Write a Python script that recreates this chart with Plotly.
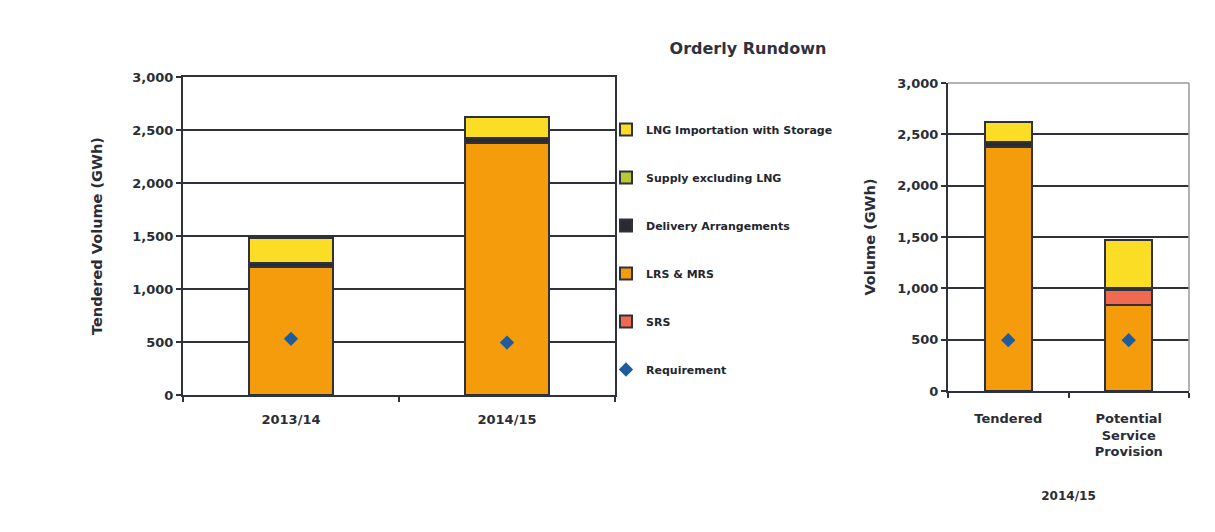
import plotly.graph_objects as go

# ---- data ----
years = ["2013/14", "2014/15"]
lrs_mrs_left = [1210, 2380]
srs_left = [0, 0]
delivery_left = [40, 45]
supply_left = [0, 0]
lng_left = [235, 195]
requirement_left = [530, 495]

cats_right = ["Tendered", "Potential<br>Service<br>Provision"]
lrs_mrs_right = [2380, 840]
srs_right = [0, 140]
delivery_right = [45, 20]
supply_right = [0, 0]
lng_right = [195, 470]
requirement_right = [495, 495]

y_ticks = [0, 500, 1000, 1500, 2000, 2500, 3000]
y_ticklabels = ["0", "500", "1,000", "1,500", "2,000", "2,500", "3,000"]

# ---- styles ----
DARK = "#2f323d"
TXT = "#2a2d36"
FONT = "DejaVu Sans"
series = [
    ("LRS & MRS", "#f59c0c", lrs_mrs_left, lrs_mrs_right, 4),
    ("SRS", "#ef6a50", srs_left, srs_right, 5),
    ("Delivery Arrangements", "#2a2b30", delivery_left, delivery_right, 3),
    ("Supply excluding LNG", "#b8c934", supply_left, supply_right, 2),
    ("LNG Importation with Storage", "#fbdd25", lng_left, lng_right, 1),
]

fig = go.Figure()
for name, color, lv, rv, rank in series:
    for xa, ya, cats, vals, show in (("x", "y", years, lv, True), ("x2", "y2", cats_right, rv, False)):
        fig.add_trace(go.Bar(
            x=cats, y=vals, name=name, xaxis=xa, yaxis=ya,
            marker=dict(color=color, line=dict(color=DARK, width=2)),
            width=0.39, legendgroup=name, showlegend=show, legendrank=rank,
        ))

fig.add_trace(go.Scatter(
    x=years, y=requirement_left, mode="markers", name="Requirement",
    marker=dict(symbol="diamond", size=11, color="#1f5c9e"),
    legendgroup="Requirement", legendrank=6, xaxis="x", yaxis="y",
))
fig.add_trace(go.Scatter(
    x=cats_right, y=requirement_right, mode="markers", name="Requirement",
    marker=dict(symbol="diamond", size=11, color="#1f5c9e"),
    legendgroup="Requirement", showlegend=False, xaxis="x2", yaxis="y2",
))

W, H = 1215, 532
tickfont = dict(family=FONT, size=13, color=TXT, weight="bold")
axtitlefont = dict(family=FONT, size=14.5, color=TXT, weight="bold")

fig.update_layout(
    width=W, height=H,
    margin=dict(l=0, r=0, t=0, b=0),
    paper_bgcolor="white", plot_bgcolor="white",
    barmode="stack",
    title=dict(text="Orderly Rundown", x=748 / W, xanchor="center", y=1 - 48 / H, yanchor="middle",
               font=dict(family=FONT, size=16, color="#2f323d", weight="bold")),
    legend=dict(x=606 / W, xanchor="left", y=1 - 115 / H, yanchor="top",
                traceorder="grouped", tracegroupgap=29, itemwidth=30,
                font=dict(family=FONT, size=11, color="#23262e", weight="bold"),
                bgcolor="rgba(0,0,0,0)"),
    xaxis=dict(domain=[183 / W, 615 / W], anchor="y", type="category", automargin=False,
               showline=True, linecolor=DARK, linewidth=2, mirror=True,
               ticks="outside", tickson="boundaries", ticklen=5, tickcolor=DARK, tickwidth=2,
               showgrid=False, tickfont=tickfont, ticklabelstandoff=11),
    yaxis=dict(domain=[1 - 395 / H, 1 - 77 / H], anchor="x", range=[0, 3000], automargin=False,
               tickvals=y_ticks, ticktext=y_ticklabels,
               showline=True, linecolor=DARK, linewidth=2, mirror=True,
               ticks="outside", ticklen=5, tickcolor=DARK, tickwidth=2,
               showgrid=True, gridcolor=DARK, gridwidth=2, zeroline=False,
               tickfont=tickfont,
               title=dict(text="Tendered Volume (GWh)", standoff=26, font=axtitlefont)),
    xaxis2=dict(domain=[948 / W, 1189 / W], anchor="y2", type="category", automargin=False,
                showline=True, linecolor=DARK, linewidth=2, mirror=False,
                ticks="outside", tickson="boundaries", ticklen=5, tickcolor=DARK, tickwidth=2,
                showgrid=False, tickfont=dict(family=FONT, size=13, color=TXT, weight="bold"),
                ticklabelstandoff=14,
                title=dict(text="2014/15", standoff=33,
                           font=dict(family=FONT, size=12, color=TXT, weight="bold"))),
    yaxis2=dict(domain=[1 - 391 / H, 1 - 83 / H], anchor="x2", range=[0, 3000], automargin=False,
                tickvals=y_ticks, ticktext=y_ticklabels,
                showline=True, linecolor=DARK, linewidth=2,
                ticks="outside", ticklen=5, tickcolor=DARK, tickwidth=2,
                showgrid=True, gridcolor=DARK, gridwidth=2, zeroline=False,
                tickfont=tickfont,
                title=dict(text="Volume (GWh)", standoff=18, font=axtitlefont)),
    bargap=0.6,
)

# light border on top/right of right panel
fig.add_shape(type="line", xref="x2 domain", yref="y2 domain", x0=0, x1=1, y0=1, y1=1,
              line=dict(color="#9a9a9a", width=1.5))
fig.add_shape(type="line", xref="x2 domain", yref="y2 domain", x0=1, x1=1, y0=0, y1=1,
              line=dict(color="#9a9a9a", width=1.5))

fig.write_html("out.html", config={"displayModeBar": False},
               post_script="document.body.style.margin='0';")
